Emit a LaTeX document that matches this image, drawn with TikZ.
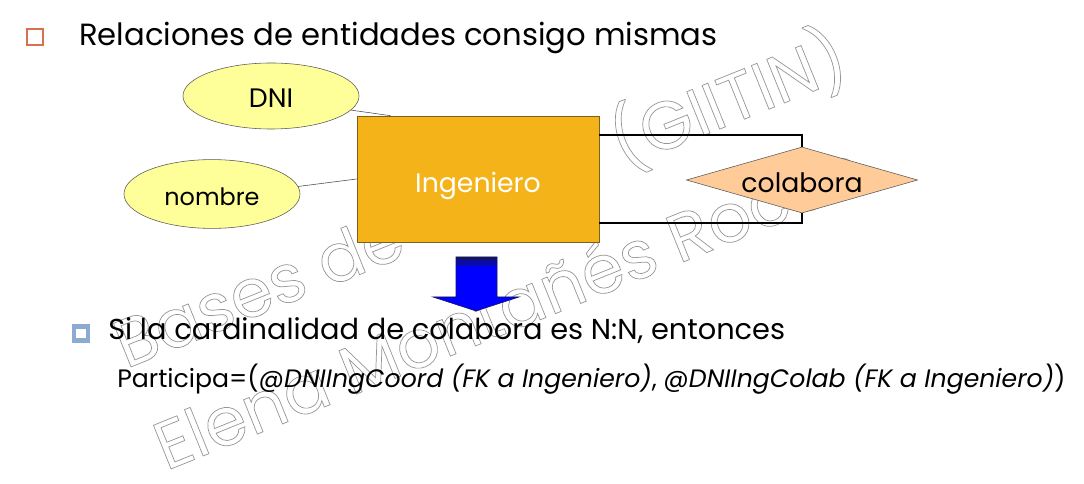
\documentclass[tikz,border=0pt]{standalone}
\usepackage{fontspec}
\setmainfont{Poppins}
\usepackage{tikz}
\usetikzlibrary{shapes.geometric, positioning, calc}
\definecolor{attrfill}{RGB}{255,255,153}
\definecolor{entfill}{RGB}{245,179,26}
\definecolor{entdraw}{RGB}{125,95,30}
\definecolor{relfill}{RGB}{255,204,153}
\definecolor{titlebullet}{RGB}{217,112,78}
\definecolor{subbullet}{RGB}{140,170,210}
\definecolor{arrowblue}{RGB}{0,0,255}
\definecolor{arrownavy}{RGB}{20,20,90}
\definecolor{wmgray}{RGB}{150,150,150}
% texto hueco (solo contorno) para la marca de agua
\newcommand{\hollowtext}[1]{\special{pdf:literal direct 1 Tr 0.5 w}#1\special{pdf:literal direct 0 Tr}}

\begin{document}
\begin{tikzpicture}[x=0.025cm, y=-0.025cm,
      attr/.style     = {ellipse, draw=black!65, fill=attrfill, inner sep=0pt,
                         minimum width=4.4cm, minimum height=1.65cm,
                         text height=16pt, text depth=0pt,
                         font=\fontsize{17}{20}\selectfont},
      entity/.style   = {draw=entdraw, fill=entfill, text=white,
                         minimum width=6.05cm, minimum height=3.15cm,
                         text height=19pt, text depth=0pt,
                         font=\fontsize{19}{22}\selectfont},
      relation/.style = {diamond, aspect=3.5, draw=black!65, fill=relfill, inner sep=0pt,
                         minimum width=5.78cm, minimum height=1.65cm,
                         text height=18pt, text depth=0pt,
                         font=\fontsize{19}{22}\selectfont},
      attrline/.style = {draw=black!70, thin},
      link/.style     = {draw=black, line width=1.6pt},
      bigarrow/.style = {fill=arrowblue, draw=arrownavy, line width=0.4pt},
      wmark/.style    = {text=wmgray, rotate=22, anchor=base west, inner sep=0pt,
                         font=\fontsize{48}{52}\selectfont},
      bullet/.style   = {anchor=base west, inner sep=0pt},
    ]
    \useasboundingbox (0,0) rectangle (1084,484);
    \fill[white] (0,0) rectangle (1084,484);

    % --- Marca de agua (detras de todo) ---
    \node[wmark] (wmA) at (126,369) {\hollowtext{Bases de datos (GIITIN)}};
    \node[wmark] (wmB) at (166,471) {\hollowtext{Elena Montañés Roces}};

    % --- Titulo ---
    \node[draw=titlebullet, line width=1.3pt, minimum size=0.42cm, inner sep=0pt] (vinieta) at (35,37) {};
    \node[bullet, font=\fontsize{21.8}{26}\selectfont] (titulo) at (79,46) {Relaciones de entidades consigo mismas};

    % --- Diagrama E/R ---
    \node[attr, font=\fontsize{19}{22}\selectfont] (dni) at (271,96) {DNI};
    \node[attr, minimum height=1.72cm] (nombre) at (212,194) {nombre};
    \node[entity] (ing) at (478,179) {Ingeniero};
    \node[relation] (colab) at (802,180) {colabora};

    \draw[attrline] (dni.-10) -- ($(ing.north west)+(34,0)$);
    \draw[attrline] (nombre.5) -- (ing.west);
    \draw[link] ($(ing.east)+(0,-44)$) -| (colab.north);
    \draw[link] ($(ing.east)+(0,44)$) -| (colab.south);

    % --- Flecha de bloque ---
    \coordinate (flecha) at (476,257);
    \draw[bigarrow] ($(flecha)+(-20,0)$) -- ($(flecha)+(21,0)$) -- ($(flecha)+(21,40)$)
      -- ($(flecha)+(43,40)$) -- ($(flecha)+(0,54)$) -- ($(flecha)+(-43,40)$)
      -- ($(flecha)+(-20,40)$) -- cycle;
    \fill[arrownavy] ($(flecha)+(-20,0)$) rectangle ($(flecha)+(21,4)$);
    \draw[arrownavy, line width=1pt] ($(flecha)+(-20,7)$) -- ($(flecha)+(21,7)$);

    % --- Texto inferior ---
    \node[draw=subbullet, fill=white, line width=3.2pt, minimum size=0.34cm, inner sep=0pt] (vinietaB) at (81,333.5) {};
    \node[bullet, font=\fontsize{20.5}{24}\selectfont] (regla) at (108,340)
      {Si la cardinalidad de colabora es N:N, entonces};
    \node[bullet, font=\fontsize{17.9}{21}\selectfont] (tabla) at (117,387)
      {Participa=(@\textit{DNIIngCoord (FK a Ingeniero)}, @\textit{DNIIngColab (FK a Ingeniero)})};
\end{tikzpicture}
\end{document}
